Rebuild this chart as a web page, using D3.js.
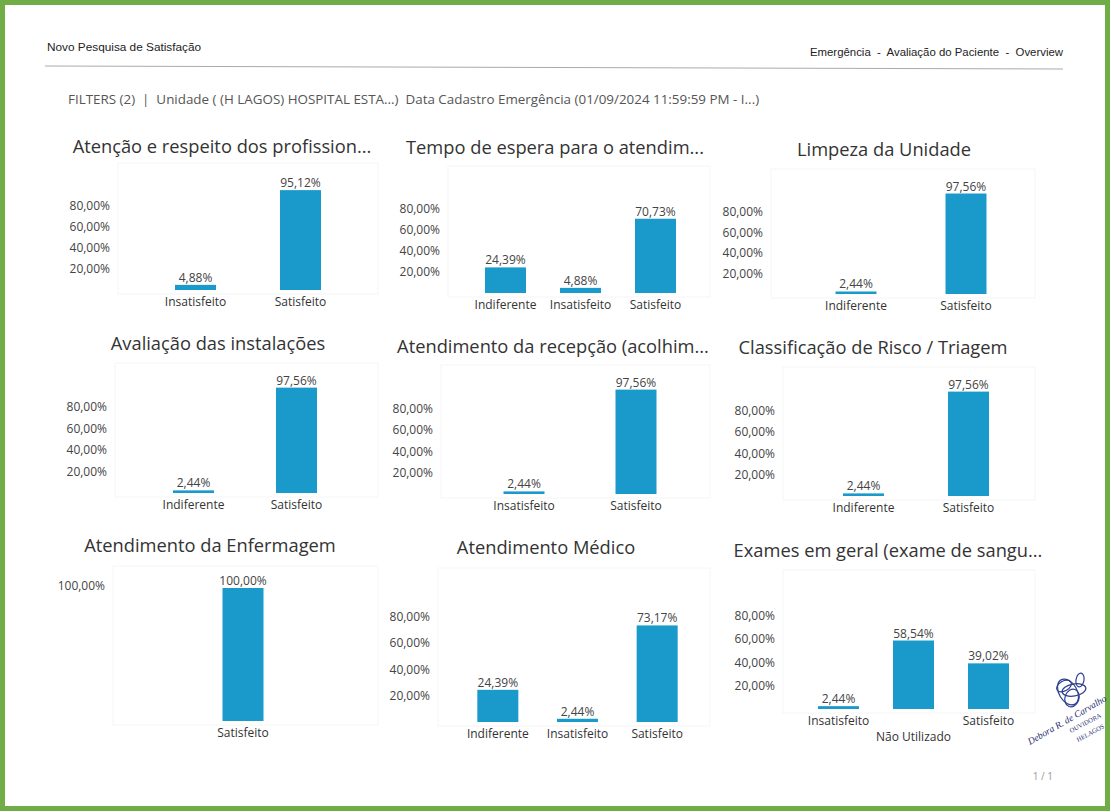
<!DOCTYPE html>
<html>
<head>
<meta charset="utf-8">
<script src="https://cdn.jsdelivr.net/npm/d3@7"></script>
<style>
  body { margin: 0; background: #fff; }
  svg { display: block; }
  .pre { white-space: pre; }
</style>
</head>
<body>
<svg id="chart" width="1111" height="812"></svg>
<script>
// Chart data
var titles = [
  "Atenção e respeito dos profission...",
  "Tempo de espera para o atendim...",
  "Limpeza da Unidade",
  "Avaliação das instalações",
  "Atendimento da recepção (acolhim...",
  "Classificação de Risco / Triagem",
  "Atendimento da Enfermagem",
  "Atendimento Médico",
  "Exames em geral (exame de sangu..."
];
var categories = [
  ["Insatisfeito", "Satisfeito"],
  ["Indiferente", "Insatisfeito", "Satisfeito"],
  ["Indiferente", "Satisfeito"],
  ["Indiferente", "Satisfeito"],
  ["Insatisfeito", "Satisfeito"],
  ["Indiferente", "Satisfeito"],
  ["Satisfeito"],
  ["Indiferente", "Insatisfeito", "Satisfeito"],
  ["Insatisfeito", "Não Utilizado", "Satisfeito"]
];
var values = [
  [4.88, 95.12],
  [24.39, 4.88, 70.73],
  [2.44, 97.56],
  [2.44, 97.56],
  [2.44, 97.56],
  [2.44, 97.56],
  [100.00],
  [24.39, 2.44, 73.17],
  [2.44, 58.54, 39.02]
];
var tickValues = [20, 40, 60, 80];
var tickValuesFull = [100];

// panel geometry: title centre, x range, baseline, px per 100%, tick label edge
var layout = [
  { tx: 222, ty: 153, x0: 143, x1: 353, y0: 290, k: 105, ax: 110 },
  { tx: 555, ty: 154, x0: 468, x1: 693, y0: 293, k: 105, ax: 440 },
  { tx: 884, ty: 156, x0: 801, x1: 1021, y0: 294, k: 103, ax: 763 },
  { tx: 218, ty: 350, x0: 142, x1: 348, y0: 493, k: 108, ax: 107 },
  { tx: 553, ty: 353, x0: 468, x1: 692, y0: 494, k: 107, ax: 433 },
  { tx: 873, ty: 354, x0: 811, x1: 1021, y0: 496, k: 107, ax: 775 },
  { tx: 210, ty: 552, x0: 113, x1: 373, y0: 721, k: 133, ax: 105 },
  { tx: 546, ty: 554, x0: 458, x1: 697, y0: 722, k: 132, ax: 430 },
  { tx: 888, ty: 557, x0: 801, x1: 1026, y0: 709, k: 117, ax: 775 }
];

var svg = d3.select("#chart");
var barColor = "#1a9acb";
var font = "'Open Sans', 'Noto Sans', sans-serif";

// page frame
svg.append("rect").attr("x", 2.5).attr("y", 2.5).attr("width", 1105).attr("height", 806)
  .attr("fill", "none").attr("stroke", "#70ad47").attr("stroke-width", 5);

// header
svg.append("text").attr("x", 47).attr("y", 51).text("Novo Pesquisa de Satisfação")
  .attr("font-family", "'Liberation Sans', Arial, sans-serif").attr("font-size", 11.8).attr("fill", "#222");
svg.append("text").attr("class", "pre").attr("x", 1063).attr("y", 56).attr("text-anchor", "end")
  .text("Emergência  -  Avaliação do Paciente  -  Overview")
  .attr("font-family", "'Liberation Sans', Arial, sans-serif").attr("font-size", 11.4).attr("fill", "#222");
svg.append("line").attr("x1", 45).attr("x2", 1063).attr("y1", 66).attr("y2", 69)
  .attr("stroke", "#aaa").attr("stroke-width", 1);

svg.append("text").attr("class", "pre").attr("x", 68).attr("y", 104)
  .attr("font-family", font).attr("font-size", 13.4).attr("fill", "#555")
  .text("FILTERS (2)  |  Unidade ( (H LAGOS) HOSPITAL ESTA...)  Data Cadastro Emergência (01/09/2024 11:59:59 PM - I...)");

// one small bar chart per panel
titles.forEach(function (title, i) {
  var L = layout[i];
  var cats = categories[i];
  var vals = values[i];
  var g = svg.append("g");

  var x = d3.scalePoint().domain(cats).range([L.x0, L.x1]).padding(0.5);
  var y = d3.scaleLinear().domain([0, 100]).range([L.y0, L.y0 - L.k]);
  var barW = 41;

  // faint plot frame
  g.append("rect")
    .attr("x", L.ax + 8).attr("y", L.y0 - L.k - 22)
    .attr("width", (i % 3 == 2 ? 1035 : (i % 3 == 1 ? 710 : 378)) - L.ax - 8)
    .attr("height", L.k + 26)
    .attr("fill", "none").attr("stroke", "#f5f5f5");

  g.append("text").attr("x", L.tx).attr("y", L.ty).attr("text-anchor", "middle")
    .attr("font-family", font).attr("font-size", 18.3).attr("fill", "#333").text(title);

  // y axis labels only
  var yAxis = d3.axisLeft(y)
    .tickValues(i == 6 ? tickValuesFull : tickValues)
    .tickSize(0)
    .tickFormat(function (d) { return d3.format(".2f")(d).replace(".", ",") + "%"; });
  var ya = g.append("g").attr("transform", "translate(" + L.ax + ",0)").call(yAxis);
  ya.select(".domain").remove();
  ya.selectAll("text").attr("x", 0).attr("font-family", font).attr("font-size", 12).attr("fill", "#444");
  if (i == 6) ya.selectAll("text").attr("dy", "0.1em");

  g.selectAll(".bar").data(vals).enter().append("rect")
    .attr("x", function (d, j) { return x(cats[j]) - barW / 2; })
    .attr("y", function (d) { return y(d); })
    .attr("width", barW)
    .attr("height", function (d) { return L.y0 - y(d); })
    .attr("fill", barColor);

  g.selectAll(".val").data(vals).enter().append("text")
    .attr("x", function (d, j) { return x(cats[j]); })
    .attr("y", function (d) { return y(d) - 3; })
    .attr("text-anchor", "middle")
    .attr("font-family", font).attr("font-size", 12).attr("fill", "#444")
    .text(function (d) { return d3.format(".2f")(d).replace(".", ",") + "%"; });

  // category labels; the middle label is staggered in the last chart
  g.selectAll(".cat").data(cats).enter().append("text")
    .attr("x", function (d) { return x(d); })
    .attr("y", function (d, j) { return L.y0 + 16 + (i == 8 && j == 1 ? 16 : 0); })
    .attr("text-anchor", "middle")
    .attr("font-family", font).attr("font-size", 12).attr("fill", "#333")
    .text(function (d) { return d; });
});

// signature stamp
var sig = svg.append("g").attr("fill", "none").attr("stroke", "#2d3f8f").attr("stroke-width", 1.2);
[[1068, 692, 9, 14, -30], [1072, 698, 7, 9, 20], [1064, 686, 5, 8, 60], [1074, 690, 12, 6, -10], [1080, 680, 4, 7, 10]].forEach(function (e) {
  sig.append("ellipse").attr("cx", e[0]).attr("cy", e[1]).attr("rx", e[2]).attr("ry", e[3])
    .attr("transform", "rotate(" + e[4] + "," + e[0] + "," + e[1] + ")");
});
var sigText = svg.append("g").attr("fill", "#1e2a6e").attr("font-family", "'Liberation Serif', serif");
sigText.append("text").attr("transform", "translate(1030,745) rotate(-30)").attr("font-size", 9.5)
  .attr("font-style", "italic").text("Debora R. de Carvalho");
sigText.append("text").attr("transform", "translate(1071,733) rotate(-28)").attr("font-size", 6.5).text("OUVIDORA");
sigText.append("text").attr("transform", "translate(1078,742) rotate(-28)").attr("font-size", 6.5).text("HELAGOS");

svg.append("text").attr("x", 1053).attr("y", 780).attr("text-anchor", "end")
  .attr("font-family", font).attr("font-size", 10).attr("fill", "#999").text("1 / 1");
</script>
</body>
</html>
